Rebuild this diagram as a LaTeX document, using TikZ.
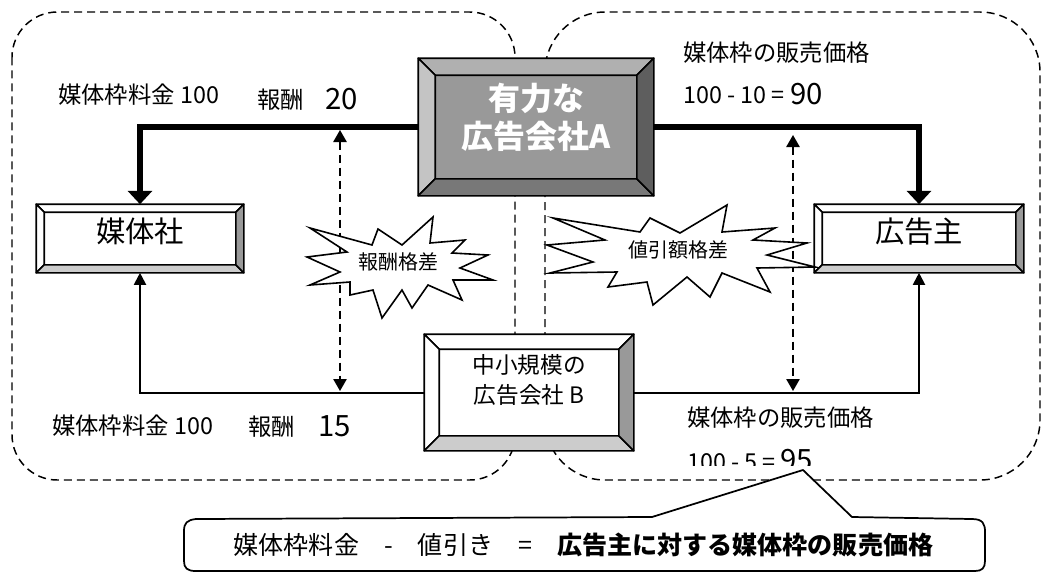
\documentclass[tikz,border=0pt]{standalone}
\usepackage{fontspec}
\setmainfont{Noto Sans CJK JP}
\usetikzlibrary{arrows.meta, calc}

\definecolor{faceA}{gray}{0.60}
\definecolor{topA}{gray}{0.69}
\definecolor{leftA}{gray}{0.77}
\definecolor{bottomA}{gray}{0.47}
\definecolor{rightA}{gray}{0.37}
\definecolor{bevelgray}{gray}{0.60}
\definecolor{bevellight}{gray}{0.80}

\tikzset{
	region/.style={dash pattern=on 6pt off 3.75pt, line width=1.1pt, rounded corners=#1},
	region/.default=34pt,
	facebox/.style={rectangle, draw, line width=1.2pt, inner sep=0pt},
	bevelside/.style={draw, line width=1.2pt, line join=round},
	thickline/.style={line width=4pt, >={Triangle[width=18pt,length=10pt]}},
	thinline/.style={line width=1.5pt, >={Triangle[width=9pt,length=9pt]}},
	gapline/.style={line width=1.2pt, dash pattern=on 6pt off 3.75pt, >={Triangle[width=10pt,length=9pt]}},
	burst/.style={fill=white, draw, line width=1.2pt},
	pricetext/.style={anchor=base west, inner sep=0pt, font=\fontsize{17.5}{20}\selectfont},
	bignum/.style={anchor=base west, inner sep=0pt, font=\fontsize{22}{24}\selectfont},
	bursttext/.style={inner sep=0pt, font=\fontsize{15}{18}\selectfont}
}

% bevelled frame round a box node: name, depth, top, left, bottom, right
\newcommand{\bevelframe}[6]{%
	\coordinate (#1-nw) at ([shift={(#2,#2)}]#1.north west);
	\coordinate (#1-ne) at ([shift={(-#2,#2)}]#1.north east);
	\coordinate (#1-se) at ([shift={(-#2,-#2)}]#1.south east);
	\coordinate (#1-sw) at ([shift={(#2,-#2)}]#1.south west);
	\filldraw[bevelside, fill=#3] (#1.north west) -- (#1.north east) -- (#1-ne) -- (#1-nw) -- cycle;
	\filldraw[bevelside, fill=#4] (#1.north west) -- (#1-nw) -- (#1-sw) -- (#1.south west) -- cycle;
	\filldraw[bevelside, fill=#5] (#1.south west) -- (#1-sw) -- (#1-se) -- (#1.south east) -- cycle;
	\filldraw[bevelside, fill=#6] (#1.north east) -- (#1.south east) -- (#1-se) -- (#1-ne) -- cycle;
}
% text lifted a little inside its box
\newcommand{\lifted}[2]{\raisebox{#1}[\height][\depth]{\begin{tabular}{@{}c@{}}#2\end{tabular}}}

\begin{document}
\begin{tikzpicture}[x=0.75pt, y=-0.75pt]
	\useasboundingbox (0,0) rectangle (1042,572);

	% the two groups
	\draw[region] (12,12) rectangle (515,480);
	\draw[region=45pt] (545,12) rectangle (1040,480);

	% boxes
	\node[facebox, fill=faceA, minimum width=175.5pt, minimum height=102pt, text=white,
		font=\fontsize{24}{27}\selectfont\bfseries] (agencyA) at (536,127) {\lifted{4.5pt}{有力な\\広告会社A}};
	\bevelframe{agencyA}{17}{topA}{leftA}{bottomA}{rightA}

	\node[facebox, fill=white, minimum width=154.5pt, minimum height=50.25pt,
		font=\fontsize{22}{24}\selectfont] (media) at (140,238.5) {\lifted{3pt}{媒体社}};
	\bevelframe{media}{8}{white}{white}{bevellight}{bevelgray}

	\node[facebox, fill=white, minimum width=156pt, minimum height=50.25pt,
		font=\fontsize{22}{24}\selectfont] (client) at (919,238.5) {\lifted{3pt}{広告主}};
	\bevelframe{client}{8}{white}{white}{bevellight}{bevelgray}

	\node[facebox, fill=white, minimum width=156pt, minimum height=86.25pt,
		font=\fontsize{17}{23}\selectfont] (agencyB) at (529,392.5) {\lifted{7.5pt}{中小規模の\\広告会社 B}};
	\bevelframe{agencyB}{15}{white}{white}{bevellight}{bevelgray}

	% money flows
	\draw[thickline, ->] (agencyA.west) -| (media.north);
	\draw[thickline, ->] (agencyA.east) -| (client.north);
	\draw[thinline, ->] (agencyB.west) -| (media.south);
	\draw[thinline, ->] (agencyB.east) -| (client.south);

	% gaps
	\coordinate (fee-top) at (340,130);
	\coordinate (fee-bot) at (340,391);
	\coordinate (price-top) at (793,135);
	\coordinate (price-bot) at (793,391);
	\draw[gapline, <->] (fee-top) -- (fee-bot);
	\draw[gapline, <->] (price-top) -- (price-bot);

	\filldraw[burst] (310,228) -- (372,245) -- (378,229) -- (402,245) -- (433,217) -- (430,243)
		-- (465,240) -- (452,253) -- (488,255) -- (460,268) -- (493,280) -- (453,280) -- (462,300)
		-- (428,285) -- (412,308) -- (402,290) -- (382,318) -- (373,290) -- (350,295) -- (350,282)
		-- (310,285) -- (340,272) -- (307,257) -- (347,252) -- cycle;
	\node[bursttext] (fee-gap) at (398,262) {報酬格差};

	\filldraw[burst] (553,218) -- (640,232) -- (650,218) -- (680,233) -- (727,205) -- (722,232)
		-- (775,228) -- (753,240) -- (807,243) -- (767,255) -- (815,267) -- (757,268) -- (770,292)
		-- (722,273) -- (710,297) -- (687,277) -- (653,305) -- (647,282) -- (608,287) -- (617,272)
		-- (550,273) -- (593,262) -- (547,245) -- (605,240) -- cycle;
	\node[bursttext] (price-gap) at (678,250) {値引額格差};

	% figures, upper route
	\node[pricetext] (fee-a) at (58,103) {媒体枠料金 100};
	\node[pricetext] (reward-a) at (257,108) {報酬};
	\node[bignum] (reward-a-num) at (325,109) {20};
	\node[pricetext] (sale-a) at (683,61) {媒体枠の販売価格};
	\node[pricetext] (sale-a-calc) at (683,103) {100 - 10 =};
	\node[bignum] (sale-a-num) at (790,104) {90};

	% figures, lower route
	\node[pricetext] (fee-b) at (52,434) {媒体枠料金 100};
	\node[pricetext] (reward-b) at (248,435) {報酬};
	\node[bignum] (reward-b-num) at (318,436) {15};
	\node[pricetext] (sale-b) at (687,426) {媒体枠の販売価格};
	\begin{scope}
		\clip (680,440) rectangle (840,465);
		\node[pricetext] (sale-b-calc) at (687,470) {100 - 5 =};
		\node[bignum] (sale-b-num) at (780,470) {95};
	\end{scope}

	% callout
	\draw[line width=1.3pt, fill=white] (196,519) -- (652,517) -- (803,470) -- (852,517) -- (972,519)
		.. controls (983,519) and (985,524) .. (985,532) -- (985,561)
		.. controls (985,568) and (982,571) .. (975,571) -- (196,571)
		.. controls (187,571) and (184,568) .. (184,561) -- (184,531)
		.. controls (184,523) and (187,520) .. (196,519) -- cycle;
	\node[inner sep=0pt, font=\fontsize{18.8}{22}\selectfont] (formula) at (583.5,545)
		{媒体枠料金　-　値引き　=　\textbf{広告主に対する媒体枠の販売価格}};
\end{tikzpicture}
\end{document}
